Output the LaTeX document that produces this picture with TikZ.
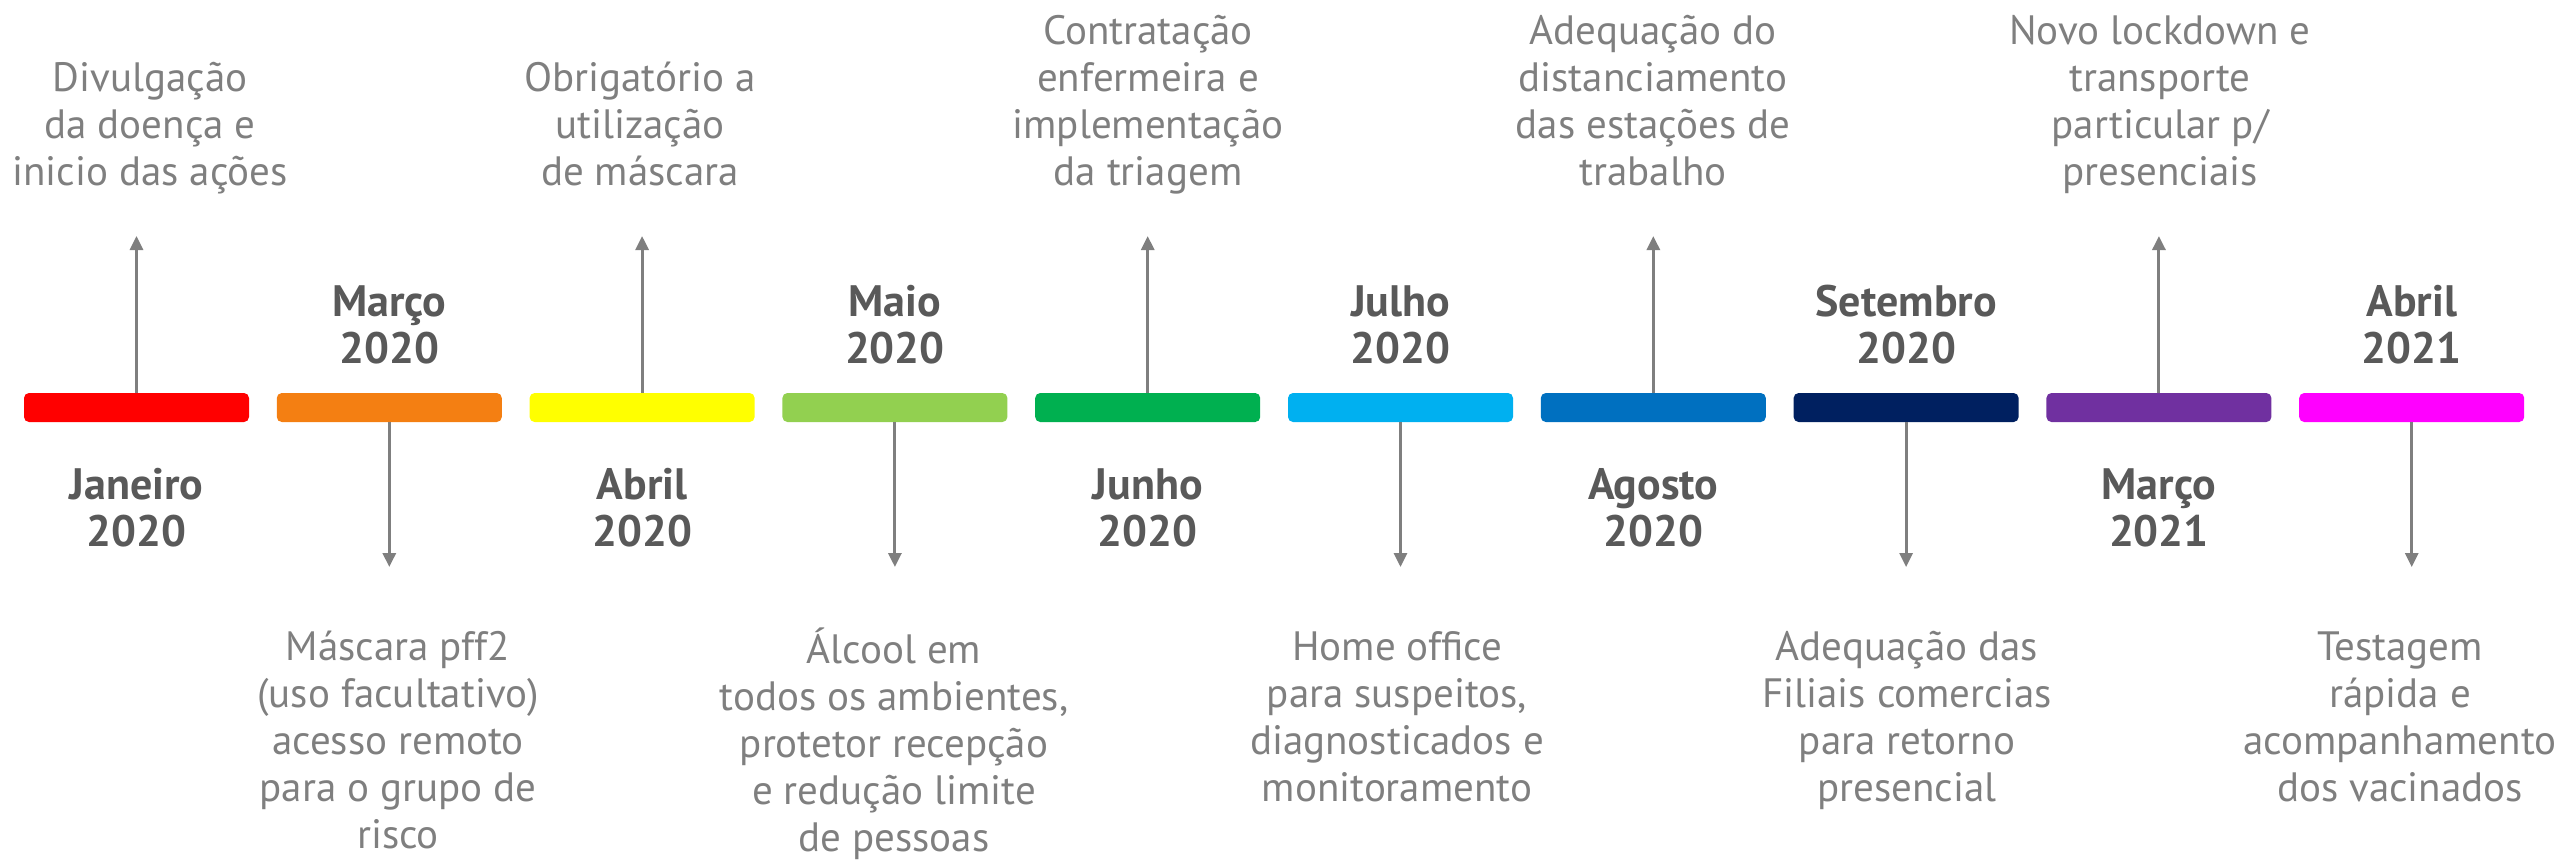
\documentclass[tikz,border=0pt]{standalone}
\usepackage{fontspec}
\setmainfont{PT Sans}
\usetikzlibrary{arrows.meta}
\definecolor{descgray}{HTML}{7F7F7F}
\definecolor{monthgray}{HTML}{595959}
\definecolor{arrowgray}{HTML}{7F7F7F}
\definecolor{c0}{HTML}{FF0000}
\definecolor{c1}{HTML}{F47F12}
\definecolor{c2}{HTML}{FFFF00}
\definecolor{c3}{HTML}{92D050}
\definecolor{c4}{HTML}{00B050}
\definecolor{c5}{HTML}{00B0F0}
\definecolor{c6}{HTML}{0070C0}
\definecolor{c7}{HTML}{002060}
\definecolor{c8}{HTML}{7030A0}
\definecolor{c9}{HTML}{FF00FF}
\begin{document}
\begin{tikzpicture}[x=0.5pt,y=-0.5pt,
  bar/.style={draw=none, rounded corners=2.5pt, minimum width=112.5pt, minimum height=14.5pt, inner sep=0pt},
  desc/.style={align=center, inner sep=0pt, text=descgray, font=\fontsize{20.5}{23.5}\selectfont},
  month/.style={align=center, inner sep=0pt, text=monthgray, font=\bfseries\fontsize{22}{23.5}\selectfont},
  conn/.style={draw=arrowgray, line width=1.5pt, -{Triangle[length=7pt,width=6.5pt]}}]
\useasboundingbox (0,0) rectangle (2557,859);
% bars
\node[bar, fill=c0] (b0) at (136.5,407.5) {};
\node[bar, fill=c1] (b1) at (389.3,407.5) {};
\node[bar, fill=c2] (b2) at (642.1,407.5) {};
\node[bar, fill=c3] (b3) at (894.9,407.5) {};
\node[bar, fill=c4] (b4) at (1147.7,407.5) {};
\node[bar, fill=c5] (b5) at (1400.5,407.5) {};
\node[bar, fill=c6] (b6) at (1653.3,407.5) {};
\node[bar, fill=c7] (b7) at (1906.1,407.5) {};
\node[bar, fill=c8] (b8) at (2158.9,407.5) {};
\node[bar, fill=c9] (b9) at (2411.7,407.5) {};
% arrow end points
\coordinate (t0) at (136.5,236);
\coordinate (t2) at (642.1,236);
\coordinate (t4) at (1147.7,236);
\coordinate (t6) at (1653.3,236);
\coordinate (t8) at (2158.9,236);
\coordinate (d1) at (389.3,567);
\coordinate (d3) at (894.9,567);
\coordinate (d5) at (1400.5,567);
\coordinate (d7) at (1906.1,567);
\coordinate (d9) at (2411.7,567);
\draw[conn] (b0.north) -- (t0);
\draw[conn] (b2.north) -- (t2);
\draw[conn] (b4.north) -- (t4);
\draw[conn] (b6.north) -- (t6);
\draw[conn] (b8.north) -- (t8);
\draw[conn] (b1.south) -- (d1);
\draw[conn] (b3.south) -- (d3);
\draw[conn] (b5.south) -- (d5);
\draw[conn] (b7.south) -- (d7);
\draw[conn] (b9.south) -- (d9);
% months
\node[month, anchor=north] (m0) at (136.5,466) {\strut Janeiro\\2020};
\node[month, anchor=south] (m1) at (389.3,378) {Março\\2020\strut};
\node[month, anchor=north] (m2) at (642.1,466) {\strut Abril\\2020};
\node[month, anchor=south] (m3) at (894.9,378) {Maio\\2020\strut};
\node[month, anchor=north] (m4) at (1147.7,466) {\strut Junho\\2020};
\node[month, anchor=south] (m5) at (1400.5,378) {Julho\\2020\strut};
\node[month, anchor=north] (m6) at (1653.3,466) {\strut Agosto\\2020};
\node[month, anchor=south] (m7) at (1906.1,378) {Setembro\\2020\strut};
\node[month, anchor=north] (m8) at (2158.9,466) {\strut Março\\2021};
\node[month, anchor=south] (m9) at (2411.7,378) {Abril\\2021\strut};
% top descriptions
\node[desc, anchor=south] (e0) at (150,200) {Divulgação\\da doença e\\inicio das ações\strut};
\node[desc, anchor=south] (e2) at (640,200) {Obrigatório a\\utilização\\de máscara\strut};
\node[desc, anchor=south] (e4) at (1148,200) {Contratação\\enfermeira e\\implementação\\da triagem\strut};
\node[desc, anchor=south] (e6) at (1653,200) {Adequação do\\distanciamento\\das estações de\\trabalho\strut};
\node[desc, anchor=south] (e8) at (2160,200) {Novo lockdown e\\transporte\\particular p/\\presenciais\strut};
% bottom descriptions
\node[desc, anchor=north] (e1) at (398,627) {\strut Máscara pff2\\(uso facultativo)\\acesso remoto\\para o grupo de\\risco};
\node[desc, anchor=north] (e3) at (894,627) {\strut Álcool em\\todos os ambientes,\\protetor recepção\\e redução limite\\de pessoas};
\node[desc, anchor=north] (e5) at (1397,627) {\strut Home office\\para suspeitos,\\diagnosticados e\\monitoramento};
\node[desc, anchor=north] (e7) at (1907,627) {\strut Adequação das\\Filiais comercias\\para retorno\\presencial};
\node[desc, anchor=north] (e9) at (2400,627) {\strut Testagem\\rápida e\\acompanhamento\\dos vacinados};
\end{tikzpicture}
\end{document}
